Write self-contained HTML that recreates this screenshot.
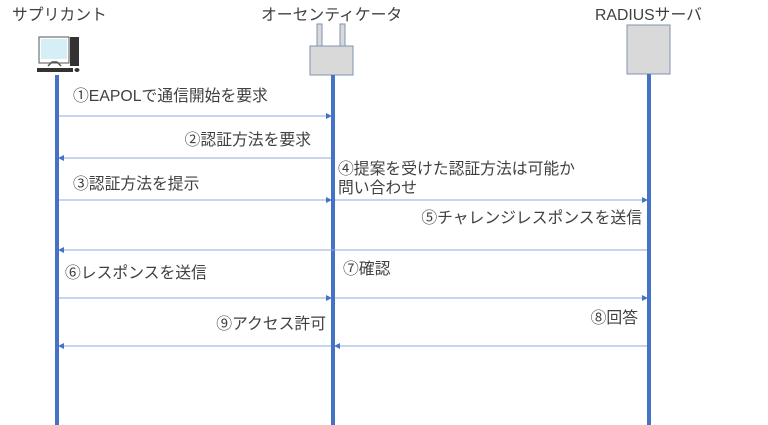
<!DOCTYPE html>
<html><head><meta charset="utf-8"><style>
html,body{margin:0;padding:0;background:#fff;width:768px;height:425px;overflow:hidden}
text{font-family:"Liberation Sans","Noto Sans CJK JP",sans-serif;font-size:15.8px;fill:#404040}
</style></head><body>
<svg width="768" height="425" viewBox="0 0 768 425" xmlns="http://www.w3.org/2000/svg">
<defs><marker id="a" markerWidth="6" markerHeight="6" refX="5" refY="3" orient="auto" markerUnits="userSpaceOnUse"><path d="M0,0 L6,3 L0,6Z" fill="#4472c4"/></marker></defs>
<text x="12" y="20">サプリカント</text>
<text x="261" y="20">オーセンティケータ</text>
<text x="595" y="20">RADIUSサーバ</text>
<!-- PC -->
<rect x="39" y="37" width="30" height="26" fill="#fff" stroke="#555" stroke-width="1"/>
<rect x="41" y="39" width="26" height="20" fill="#d6eef6"/>
<path d="M48,66 L52,62 L57,62 L61,66" stroke="#555" fill="none" stroke-width="1.5"/>
<rect x="70" y="37" width="9" height="29" fill="#333"/>
<rect x="37" y="68" width="36" height="4" fill="#333"/>
<ellipse cx="77" cy="70" rx="2.5" ry="2" fill="#333"/>
<!-- authenticator -->
<rect x="317" y="24" width="5" height="22" fill="#d9d9d9" stroke="#7f93b5"/>
<rect x="340" y="24" width="5" height="22" fill="#d9d9d9" stroke="#7f93b5"/>
<rect x="310" y="46" width="43" height="29" fill="#d9d9d9" stroke="#7f93b5"/>
<!-- radius -->
<rect x="627" y="25" width="43" height="49" fill="#d9d9d9" stroke="#7f93b5"/>
<!-- lifelines -->
<rect x="55" y="75" width="4" height="350" fill="#4472c4"/>
<rect x="331" y="75" width="4" height="350" fill="#4472c4"/>
<rect x="647" y="74" width="4" height="351" fill="#4472c4"/>
<g stroke="#8eaadb" stroke-width="1">
<line x1="59" y1="116" x2="331" y2="116" marker-end="url(#a)"/>
<line x1="331" y1="158" x2="59" y2="158" marker-end="url(#a)"/>
<line x1="59" y1="200" x2="331" y2="200" marker-end="url(#a)"/>
<line x1="335" y1="200" x2="647" y2="200" marker-end="url(#a)"/>
<line x1="647" y1="250" x2="59" y2="250" marker-end="url(#a)"/>
<line x1="59" y1="298" x2="331" y2="298" marker-end="url(#a)"/>
<line x1="335" y1="298" x2="647" y2="298" marker-end="url(#a)"/>
<line x1="647" y1="346" x2="335" y2="346" marker-end="url(#a)"/>
<line x1="331" y1="346" x2="59" y2="346" marker-end="url(#a)"/>
</g>
<text x="73" y="101">①EAPOLで通信開始を要求</text>
<text x="311" y="145" text-anchor="end">②認証方法を要求</text>
<text x="73" y="189">③認証方法を提示</text>
<text x="338" y="174">④提案を受けた認証方法は可能か</text>
<text x="338" y="193">問い合わせ</text>
<text x="642" y="223" text-anchor="end">⑤チャレンジレスポンスを送信</text>
<text x="65" y="278">⑥レスポンスを送信</text>
<text x="343" y="274">⑦確認</text>
<text x="638" y="323" text-anchor="end">⑧回答</text>
<text x="326" y="329" text-anchor="end">⑨アクセス許可</text>
</svg>
</body></html>
